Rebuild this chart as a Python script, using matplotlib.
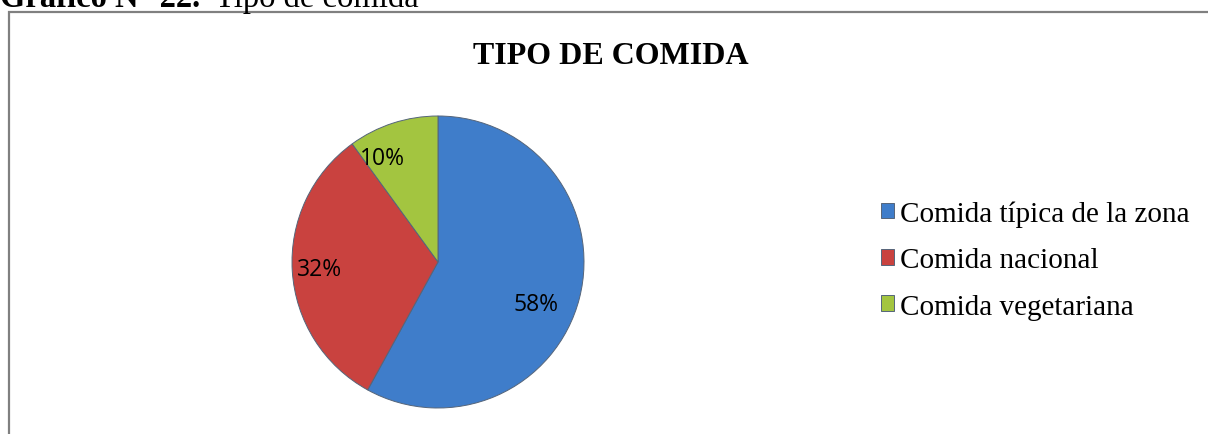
import matplotlib.pyplot as plt
from matplotlib.patches import Rectangle

categorias = ['Comida típica de la zona', 'Comida nacional', 'Comida vegetariana']
porcentajes = [58, 32, 10]
colores = ['#3f7dca', '#c9423f', '#a3c540']

W, H = 1208, 435
fig = plt.figure(figsize=(W / 100, H / 100), dpi=100)

# caption above the chart frame (cut at the top in the original)
fig.text(0, 1 - 7 / H, 'Gráfico N° 22.', family='Liberation Serif', fontweight='bold',
         fontsize=23.5, va='baseline', ha='left')
fig.text(215 / W, 1 - 7 / H, 'Tipo de comida', family='Liberation Serif',
         fontsize=23.5, va='baseline', ha='left')

# chart frame
fig.patches.append(Rectangle((9 / W, -0.1), 1.2, 1 - 13 / H + 0.1, transform=fig.transFigure,
                             fill=False, edgecolor='#808080', linewidth=1.6))

fig.text(611 / W, 1 - 56 / H, 'TIPO DE COMIDA', family='Liberation Serif', fontweight='bold',
         fontsize=23, ha='center', va='center')

cx, cy, r = 438, 263, 146
ax = fig.add_axes([(cx - r) / W, (H - cy - r) / H, 2 * r / W, 2 * r / H])
wedges, texts, autotexts = ax.pie(porcentajes, colors=colores, startangle=90, counterclock=False,
                                  autopct='%d%%', pctdistance=0.75,
                                  wedgeprops=dict(edgecolor='#55657a', linewidth=0.7),
                                  textprops=dict(family='Open Sans', fontsize=16.5, color='black'))
ax.set_xlim(-1, 1)
ax.set_ylim(-1, 1)
ax.set_aspect('equal')

# label placement similar to the original's best-fit layout
pos = [(0.67, -0.29), (-0.81, -0.05), (-0.38, 0.71)]
for t, p in zip(autotexts, pos):
    t.set_position(p)

leg = fig.legend(wedges, categorias, loc='center left', bbox_to_anchor=(855 / W, 1 - 261 / H),
                 frameon=False, prop=dict(family='Liberation Serif', size=21),
                 handlelength=0.45, handleheight=0.45, handletextpad=0.2, labelspacing=0.7)

fig.savefig('out.png', dpi=100)
